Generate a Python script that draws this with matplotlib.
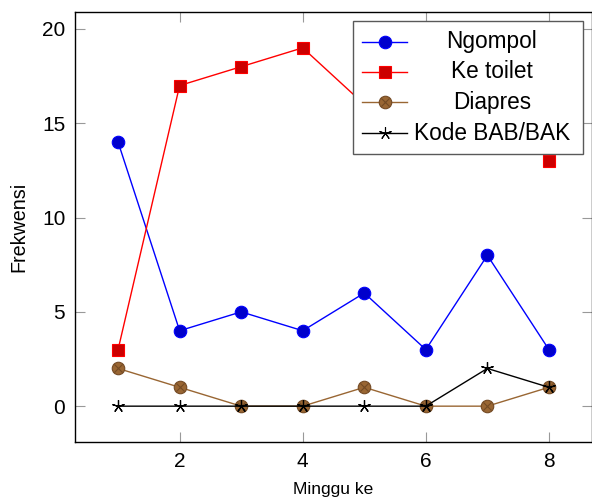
import matplotlib
matplotlib.use("Agg")
import matplotlib.pyplot as plt
from matplotlib.lines import Line2D
from matplotlib.patches import Rectangle

plt.rcParams['font.family'] = ['Liberation Sans', 'DejaVu Sans']

weeks = [1, 2, 3, 4, 5, 6, 7, 8]
ngompol = [14, 4, 5, 4, 6, 3, 8, 3]
ke_toilet = [3, 17, 18, 19, 16, 15, 17, 13]
diapres = [2, 1, 0, 0, 1, 0, 0, 1]
kode = [0, 0, 0, 0, 0, 0, 2, 1]
labels = ["Ngompol", "Ke toilet", "Diapres", "Kode BAB/BAK"]
xticks = [2, 4, 6, 8]
yticks = [0, 5, 10, 15, 20]

blue = (0, 0, 1)
blue_fill = (0, 0, 0.8)
red = (1, 0, 0)
red_fill = (0.8, 0, 0)
brown = (0.6, 0.4, 0.2)
brown_dark = (0.45, 0.29, 0.14)
star = (5, 2, 0)

fig = plt.figure(figsize=(5.92, 4.99), dpi=100)
ax = fig.add_axes([75/592, 1-442/499, 1-75/592, (442-12)/499])

ax.plot(weeks, ngompol, color=blue, lw=1.0, marker='o', ms=9,
        mfc=blue_fill, mec=blue, mew=0.8)
ax.plot(weeks, ke_toilet, color=red, lw=1.0, marker='s', ms=8.5,
        mfc=red_fill, mec=red, mew=0.8)
ax.plot(weeks, diapres, color=brown, lw=1.0, marker='o', ms=9,
        mfc=brown, mec=brown_dark, mew=0.8)
ax.plot(weeks, diapres, ls='none', marker='x', ms=6,
        mec=brown_dark, mew=0.8)
ax.plot(weeks, kode, color='black', lw=1.0, marker=star, ms=9,
        mec='black', mew=0.9)

ax.set_xlim(0.3, 8.7)
ax.set_ylim(-1.9, 20.9)
ax.set_xticks(xticks)
ax.set_yticks(yticks)
ax.tick_params(direction='in', length=7.5, width=0.8, color=(0.6, 0.6, 0.6),
               labelsize=15, top=True, right=True, pad=7)
for s in ax.spines.values():
    s.set_linewidth(1.0)
ax.set_xlabel("Minggu ke", fontsize=12.5, labelpad=8)
ax.set_ylabel("Frekwensi", fontsize=14.2, labelpad=10)

# legend (custom, centered text)
x0, x1, y0, y1 = 0.538, 0.983, 0.670, 0.979
ax.add_patch(Rectangle((x0, y0), x1-x0, y1-y0, transform=ax.transAxes,
                       facecolor='white', edgecolor=(0.35, 0.35, 0.35),
                       lw=1.0, zorder=5))
rows = [0.931, 0.861, 0.790, 0.718]
styles = [
    dict(color=blue, marker='o', ms=9, mfc=blue_fill, mec=blue),
    dict(color=red, marker='s', ms=8.5, mfc=red_fill, mec=red),
    dict(color=brown, marker='o', ms=9, mfc=brown, mec=brown_dark),
    dict(color='black', marker=star, ms=9, mec='black'),
]
for yy, st, lab in zip(rows, styles, labels):
    ax.add_line(Line2D([0.556, 0.643], [yy, yy], transform=ax.transAxes,
                       lw=1.0, zorder=6, color=st['color']))
    ax.add_line(Line2D([0.599], [yy], transform=ax.transAxes, ls='none',
                       zorder=7, marker=st['marker'], ms=st['ms'],
                       mfc=st.get('mfc', 'none'), mec=st['mec'], mew=0.8))
    ax.text(0.806, yy, lab, transform=ax.transAxes, ha='center', va='center',
            fontsize=16.3, zorder=8)
ax.add_line(Line2D([0.599], [rows[2]], transform=ax.transAxes, ls='none',
                   zorder=8, marker='x', ms=6, mec=brown_dark, mew=0.8))

fig.savefig("out.png", dpi=100)
